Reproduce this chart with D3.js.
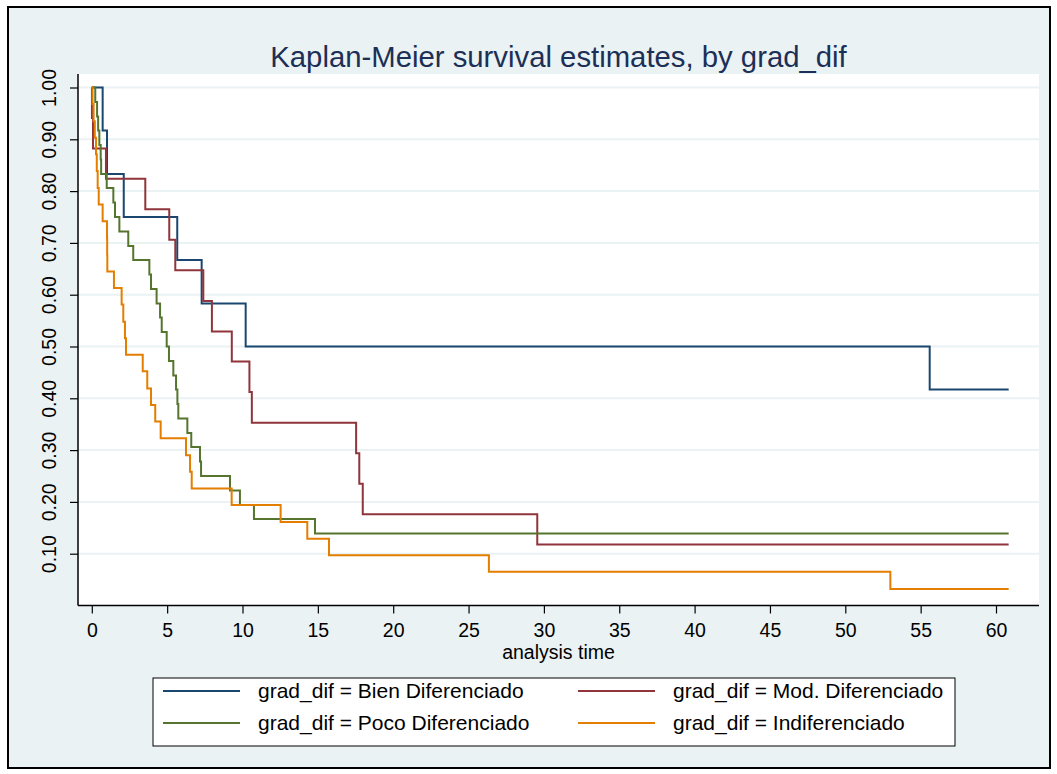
<!DOCTYPE html>
<html>
<head>
<meta charset="utf-8">
<script src="https://cdn.jsdelivr.net/npm/d3@7"></script>
<style>
  html, body { margin: 0; padding: 0; background: #ffffff; }
  svg { display: block; font-family: "Liberation Sans", Arial, sans-serif; }
</style>
</head>
<body>
<svg id="chart" width="1057" height="774"></svg>
<script>
// Kaplan-Meier step estimates: event times and survival after each event
const bienTimes = [0.72, 1.01, 2.12, 5.67, 7.29, 10.21, 55.6];
const bienSurv  = [0.917, 0.833, 0.750, 0.667, 0.583, 0.500, 0.417];

const modTimes = [0.01, 0.08, 0.94, 3.55, 5.14, 5.54, 7.40, 7.97, 9.29, 10.46, 10.62, 17.54, 17.75, 17.98, 29.56];
const modSurv  = [0.941, 0.882, 0.824, 0.765, 0.706, 0.647, 0.588, 0.529, 0.471, 0.412, 0.353, 0.294, 0.235, 0.176, 0.118];

const pocoTimes = [0.23, 0.35, 0.42, 0.50, 0.59, 0.62, 0.99, 1.43, 1.54, 1.83, 2.42, 2.75, 3.82, 3.93, 4.30, 4.53,
                   4.64, 4.97, 5.12, 5.41, 5.59, 5.68, 5.74, 6.34, 6.60, 7.18, 7.25, 9.17, 9.83, 10.76, 14.81];
const pocoSurv  = [0.972, 0.944, 0.917, 0.889, 0.861, 0.833, 0.806, 0.778, 0.750, 0.722, 0.694, 0.667, 0.639, 0.611, 0.583, 0.556,
                   0.528, 0.500, 0.472, 0.444, 0.417, 0.389, 0.361, 0.333, 0.306, 0.278, 0.250, 0.222, 0.194, 0.167, 0.139];

const indifTimes = [0.05, 0.12, 0.20, 0.28, 0.33, 0.39, 0.46, 0.72, 1.01, 1.02, 1.03, 1.47, 1.98, 2.09, 2.20, 2.27,
                    3.38, 3.68, 3.93, 4.21, 4.57, 6.25, 6.52, 6.63, 9.28, 12.53, 14.30, 15.74, 26.35, 52.99];
const indifSurv  = [0.968, 0.935, 0.903, 0.871, 0.839, 0.806, 0.774, 0.742, 0.710, 0.677, 0.645, 0.613, 0.581, 0.548, 0.516, 0.484,
                    0.452, 0.419, 0.387, 0.355, 0.323, 0.290, 0.258, 0.226, 0.194, 0.161, 0.129, 0.097, 0.065, 0.032];

const lastTime = 60.84;

const groupLabels = ["grad_dif = Bien Diferenciado", "grad_dif = Mod. Diferenciado",
                     "grad_dif = Poco Diferenciado", "grad_dif = Indiferenciado"];
const groupColors = ["#1a476f", "#90353b", "#55752f", "#e37e00"];

const xTicks = [0, 5, 10, 15, 20, 25, 30, 35, 40, 45, 50, 55, 60];
const yTicks = [0.10, 0.20, 0.30, 0.40, 0.50, 0.60, 0.70, 0.80, 0.90, 1.00];

const titleText = "Kaplan-Meier survival estimates, by grad_dif";
const xTitle = "analysis time";

const series = [
  { times: bienTimes, surv: bienSurv },
  { times: modTimes, surv: modSurv },
  { times: pocoTimes, surv: pocoSurv },
  { times: indifTimes, surv: indifSurv }
];

const svg = d3.select("#chart");
const FONT = "'Liberation Sans', Arial, sans-serif";

// graph region
svg.append("rect").attr("x", 8).attr("y", 7).attr("width", 1042).attr("height", 761)
  .attr("fill", "#eaf2f3").attr("stroke", "#000").attr("stroke-width", 2);

// plot region
const plot = { left: 78, right: 1039, top: 74, bottom: 605.5 };
svg.append("rect").attr("x", plot.left).attr("y", plot.top)
  .attr("width", plot.right - plot.left).attr("height", plot.bottom - plot.top)
  .attr("fill", "#ffffff");

const x = d3.scaleLinear().domain([0, 60]).range([91.8, 996]);
const y = d3.scaleLinear().domain([0, 1]).range([605.5, 87.5]);

// horizontal grid
svg.append("g").selectAll("line").data(yTicks).join("line")
  .attr("x1", plot.left).attr("x2", plot.right)
  .attr("y1", d => y(d)).attr("y2", d => y(d))
  .attr("stroke", "#eaf2f3").attr("stroke-width", 2);

// survival curves
const line = d3.line().x(d => x(d[0])).y(d => y(d[1])).curve(d3.curveStepAfter);
series.forEach((s, i) => {
  const pts = [[0, 1]];
  s.times.forEach((t, j) => pts.push([t, s.surv[j]]));
  pts.push([lastTime, s.surv[s.surv.length - 1]]);
  svg.append("path").datum(pts).attr("d", line)
    .attr("fill", "none").attr("stroke", groupColors[i]).attr("stroke-width", 2)
    .attr("stroke-linejoin", "miter");
});

// y axis
const yAxis = svg.append("g").attr("transform", `translate(${plot.left},0)`)
  .call(d3.axisLeft(y).tickValues(yTicks).tickFormat(d3.format(".2f")).tickSize(8).tickSizeOuter(0));
yAxis.select(".domain").attr("d", `M0,${plot.top}V${plot.bottom}`).attr("stroke", "#000").attr("stroke-width", 1.5);
yAxis.selectAll(".tick line").attr("stroke", "#000").attr("stroke-width", 1.2);
yAxis.selectAll(".tick text")
  .attr("x", null).attr("dy", null)
  .attr("transform", "translate(-22,0) rotate(-90)")
  .attr("text-anchor", "middle")
  .attr("font-size", 19.5).attr("fill", "#000")
  .style("font-family", FONT);

// x axis
const xAxis = svg.append("g").attr("transform", `translate(0,${plot.bottom})`)
  .call(d3.axisBottom(x).tickValues(xTicks).tickFormat(d3.format("d")).tickSize(8).tickSizeOuter(0));
xAxis.select(".domain").attr("d", `M${plot.left},0H${plot.right}`).attr("stroke", "#000").attr("stroke-width", 1.5);
xAxis.selectAll(".tick line").attr("stroke", "#000").attr("stroke-width", 1.2);
xAxis.selectAll(".tick text")
  .attr("y", 31.5).attr("dy", null)
  .attr("font-size", 19.5).attr("fill", "#000")
  .style("font-family", FONT);

svg.append("text").attr("x", (plot.left + plot.right) / 2).attr("y", 659)
  .attr("text-anchor", "middle").attr("font-size", 19.5).attr("fill", "#000").text(xTitle);

// title
svg.append("text").attr("x", (plot.left + plot.right) / 2).attr("y", 67)
  .attr("text-anchor", "middle").attr("font-size", 29.3).attr("fill", "#1c2f56").text(titleText);

// legend
const lg = svg.append("g");
lg.append("rect").attr("x", 153).attr("y", 678).attr("width", 802).attr("height", 68)
  .attr("fill", "#ffffff").attr("stroke", "#000").attr("stroke-width", 1);
const cols = [163, 578], rows = [691, 723];
groupLabels.forEach((lab, i) => {
  const cx = cols[i % 2], cy = rows[Math.floor(i / 2)];
  lg.append("line").attr("x1", cx).attr("x2", cx + 77).attr("y1", cy).attr("y2", cy)
    .attr("stroke", groupColors[i]).attr("stroke-width", 2);
  lg.append("text").attr("x", cx + 95).attr("y", cy).attr("dy", "0.35em")
    .attr("font-size", 21).attr("fill", "#000").text(lab);
});
</script>
</body>
</html>
